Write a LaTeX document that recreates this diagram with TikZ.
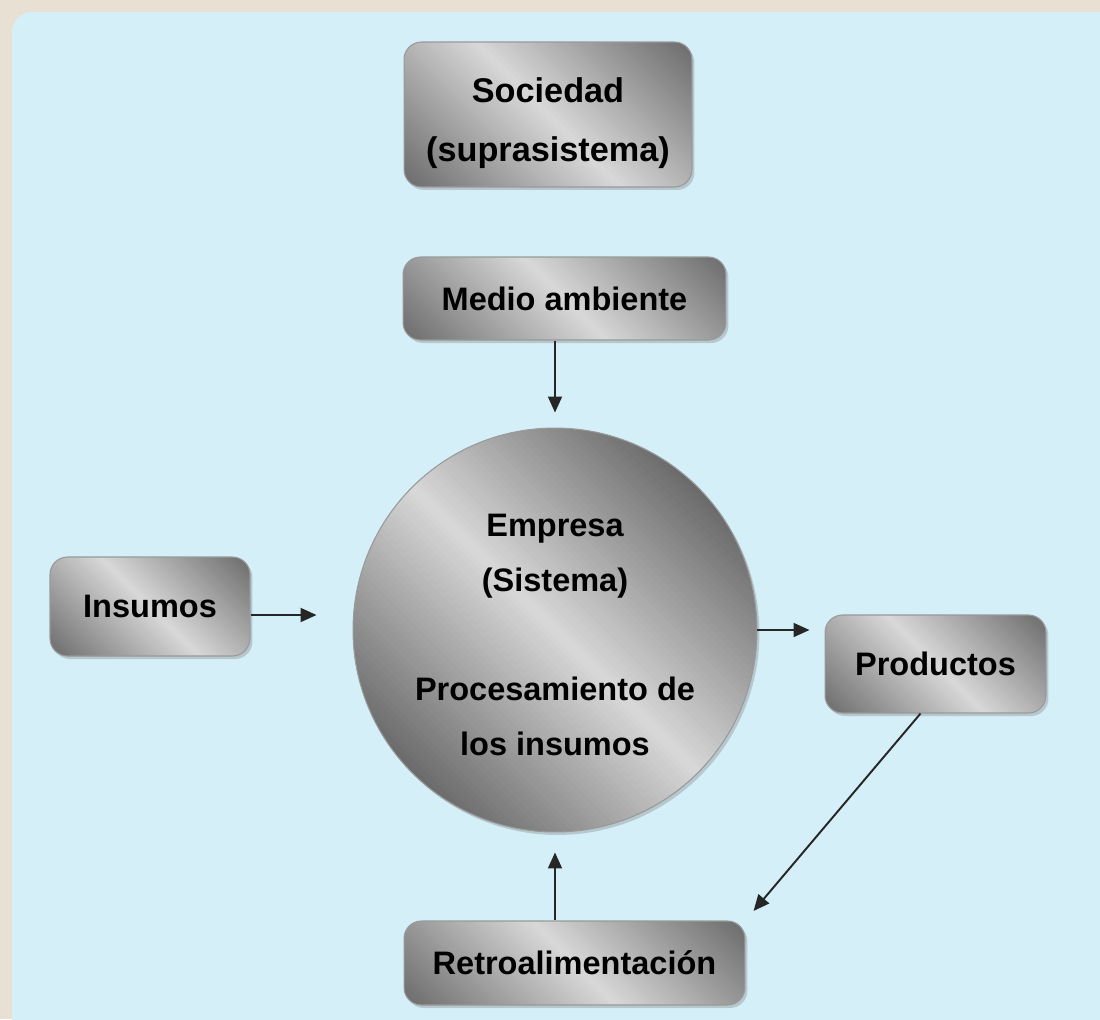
\documentclass[tikz,border=0pt]{standalone}
\usepackage{fontspec}
\setmainfont{Liberation Sans}
\usetikzlibrary{arrows.meta,shadows}

\definecolor{fondo}{HTML}{D4EFF8}
\definecolor{marco}{HTML}{E8E0D3}
\definecolor{grisclaro}{HTML}{D8D8D8}
\definecolor{grisoscuro}{HTML}{6A6A6A}

\tikzset{
  % degradado diagonal hecho a franjas; #1 = medio ancho en px
  degradado/.style={path picture={
    \foreach \i in {-40,...,39} {
      \pgfmathsetmacro\tono{100*abs(\i+0.5)/40}
      \pgfmathsetmacro\ax{0.7071*(\i*#1/40-400)}
      \pgfmathsetmacro\ay{-0.7071*(\i*#1/40+400)}
      \pgfmathsetmacro\an{0.7071*1.6*#1/40}
      \fill[grisoscuro!\tono!grisclaro] (path picture bounding box.center) ++(\ax,\ay)
        -- ++(565.7,565.7) -- ++(\an,-\an) -- ++(-565.7,-565.7) -- cycle;
    }}},
  caja/.style={rectangle, rounded corners=0.35cm, draw=gray!80, line width=0.6pt,
    fill=grisclaro,
    drop shadow={shadow xshift=0.05cm, shadow yshift=-0.06cm, opacity=0.35},
    font=\fontsize{18.5}{31}\selectfont\bfseries, align=center, inner sep=0pt},
  flecha/.style={-{Triangle[length=0.32cm,width=0.28cm]}, line width=1.1pt, draw=black!85},
}

\begin{document}
\begin{tikzpicture}[x=0.02cm, y=-0.02cm]
    \clip (0,0) rectangle (1100,1019);

    % fondo
    \fill[marco] (0,0) rectangle (1100,1019);
    \fill[fondo, rounded corners=0.4cm] (12,12) rectangle (1130,1050);

    % cajas
    \node[caja, degradado=153, minimum width=5.76cm, minimum height=2.9cm,
          font=\fontsize{19.5}{33.5}\selectfont\bfseries] (sociedad) at (548,114.5)
          {\rule{0pt}{0.85cm}Sociedad\\(suprasistema)};
    \node[caja, degradado=144, minimum width=6.46cm, minimum height=1.66cm] (medio) at (564.5,298.5) {Medio ambiente};
    \node[caja, degradado=202, circle, minimum size=8.08cm] (sistema) at (555,630)
          {\rule{0pt}{0.65cm}Empresa\\(Sistema)\\[1.1cm]Procesamiento de\\los insumos};
    \node[caja, degradado=106, minimum width=4cm, minimum height=1.98cm] (insumos) at (150,606.5) {Insumos};
    \node[caja, degradado=113, minimum width=4.42cm, minimum height=1.96cm] (productos) at (935.5,664) {Productos};
    \node[caja, degradado=150, minimum width=6.82cm, minimum height=1.68cm] (retro) at (574.5,963) {Retroalimentación};

    % flechas
    \draw[flecha] (medio.south -| sistema.north) -- ([yshift=0.3cm]sistema.north);
    \draw[flecha] ([yshift=-0.17cm]insumos.east) -- ([yshift=-0.17cm,xshift=-0.72cm]insumos.east -| sistema.west);
    \draw[flecha] (sistema.east) -- ([xshift=-0.3cm]sistema.east -| productos.west);
    \draw[flecha, shorten >=0.25cm] ([xshift=-0.3cm]productos.south) -- (retro.north east);
    \draw[flecha] (retro.north -| sistema.south) -- ([yshift=-0.4cm]sistema.south);
\end{tikzpicture}
\end{document}
